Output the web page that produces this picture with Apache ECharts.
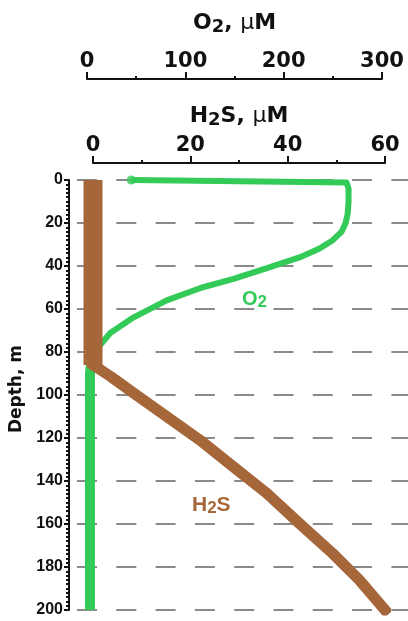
<!DOCTYPE html>
<html>
<head>
<meta charset="utf-8">
<script src="https://cdn.jsdelivr.net/npm/echarts@6/dist/echarts.min.js"></script>
<style>
  html, body { margin: 0; padding: 0; background: #fff; }
  #chart { width: 408px; height: 621px; }
</style>
</head>
<body>
<div id="chart"></div>
<script>
// Axis ticks
const depthTicks = [0, 20, 40, 60, 80, 100, 120, 140, 160, 180, 200];
const o2Ticks = [0, 100, 200, 300];
const h2sTicks = [0, 20, 40, 60];

// Oxygen profile (µM) against depth (m)
const o2Depth  = [0, 1.2, 4, 10, 16, 20, 24, 28, 32, 36, 41, 46, 50, 56, 64, 71, 77, 82, 86, 90, 200];
const o2Values = [45, 264, 266, 266, 265, 263, 259, 250, 236, 216, 183, 149, 117, 81, 47, 24, 13, 7, 4, 3, 3];

// Hydrogen sulfide profile (µM) against depth (m)
const h2sDepth  = [0, 86, 91.5, 99.2, 110.1, 121, 133.3, 145.7, 159.7, 173.6, 186, 200];
const h2sValues = [0, 0, 3.7, 8.4, 15.2, 22, 28.8, 35.7, 42.4, 49.2, 54.7, 60];

const GREEN = '#33ca58';
const BROWN = '#a5673a';
const INK = '#111';

const pairs = (vals, deps) => vals.map((v, i) => [v, deps[i]]);
const o2Data = pairs(o2Values, o2Depth);
const h2sData = pairs(h2sValues, h2sDepth);
const deepStart = o2Depth.indexOf(82);
const bendAt = h2sDepth.indexOf(86);

const tickFont = { fontFamily: 'DejaVu Sans', fontWeight: 'bold', fontSize: 21, color: INK };
function titleRich() {
  const base = { fontFamily: 'DejaVu Sans', fontWeight: 'bold', fontSize: 22, color: INK };
  return {
    a: Object.assign({}, base),
    s: Object.assign({}, base, { fontSize: 18, padding: [7, 0, 0, 0] }),
    u: Object.assign({}, base, { fontWeight: 'normal' })
  };
}

function topAxis(grid, ticks, offset, name, gap) {
  return {
    type: 'value', gridIndex: grid, position: 'top', offset: offset,
    min: ticks[0], max: ticks[ticks.length - 1], interval: ticks[1] - ticks[0],
    axisLine: { show: true, onZero: false, lineStyle: { color: INK, width: 2 } },
    axisTick: { show: true, length: 7, lineStyle: { color: INK, width: 2 } },
    minorTick: { show: true, splitNumber: 2, length: 3, lineStyle: { color: INK, width: 2 } },
    axisLabel: Object.assign({ margin: 7 }, tickFont),
    splitLine: { show: false },
    name: name, nameLocation: 'middle', nameGap: gap,
    nameTextStyle: { rich: titleRich() }
  };
}

const chart = echarts.init(document.getElementById('chart'), null, { renderer: 'canvas' });
chart.setOption({
  backgroundColor: '#fff',
  animation: false,
  grid: [
    { left: 87, top: 180, width: 295, height: 430 },
    { left: 92, top: 180, width: 293, height: 430 },
    { left: 77, top: 180, right: 0, height: 430 }
  ],
  xAxis: [
    topAxis(0, o2Ticks, 101, '{a|O}{s|2}{a|, }{u|μ}{a|M}', 43),
    topAxis(1, h2sTicks, 17, '{a|H}{s|2}{a|S, }{u|μ}{a|M}', 34),
    { type: 'value', gridIndex: 2, show: false, min: 0, max: 1 }
  ],
  yAxis: [
    { type: 'value', gridIndex: 0, show: false, inverse: true, min: 0, max: 200 },
    {
      type: 'value', gridIndex: 1, inverse: true, offset: 24,
      min: depthTicks[0], max: depthTicks[depthTicks.length - 1], interval: depthTicks[1] - depthTicks[0],
      axisLine: { show: true, onZero: false, lineStyle: { color: INK, width: 2 } },
      axisTick: { show: true, length: 5, lineStyle: { color: INK, width: 2 } },
      minorTick: { show: true, splitNumber: 10, length: 3, lineStyle: { color: INK, width: 2 } },
      axisLabel: { margin: 6, fontFamily: 'Liberation Sans', fontWeight: 'bold', fontSize: 16, color: INK },
      splitLine: { show: false },
      name: 'Depth, m', nameLocation: 'middle', nameRotate: 90, nameGap: 44,
      nameTextStyle: { fontFamily: 'DejaVu Sans', fontWeight: 'bold', fontSize: 17, color: INK, padding: [0, 0, 0, 12] }
    },
    {
      type: 'value', gridIndex: 2, inverse: true,
      min: depthTicks[0], max: depthTicks[depthTicks.length - 1], interval: depthTicks[1] - depthTicks[0],
      axisLine: { show: false }, axisTick: { show: false }, axisLabel: { show: false },
      splitLine: { show: true, lineStyle: { color: '#8a8a8a', width: 2, type: [20, 19.3] } }
    }
  ],
  graphic: [
    {
      type: 'text', left: 242, top: 289, z: 10,
      style: {
        text: '{a|O}{s|2}',
        rich: {
          a: { fontFamily: 'Liberation Sans', fontWeight: 'bold', fontSize: 20, fill: GREEN },
          s: { fontFamily: 'Liberation Sans', fontWeight: 'bold', fontSize: 17, fill: GREEN, padding: [6, 0, 0, 0] }
        }
      }
    },
    {
      type: 'text', left: 192, top: 495, z: 10,
      style: {
        text: '{a|H}{s|2}{a|S}',
        rich: {
          a: { fontFamily: 'Liberation Sans', fontWeight: 'bold', fontSize: 21, fill: BROWN },
          s: { fontFamily: 'Liberation Sans', fontWeight: 'bold', fontSize: 17, fill: BROWN, padding: [6, 0, 0, 0] }
        }
      }
    }
  ],
  series: [
    {
      name: 'O2', type: 'line', xAxisIndex: 0, yAxisIndex: 0, data: o2Data,
      symbol: 'none', lineStyle: { color: GREEN, width: 6, join: 'round', cap: 'butt' }, z: 3
    },
    {
      name: 'O2 deep', type: 'line', xAxisIndex: 0, yAxisIndex: 0, data: o2Data.slice(deepStart),
      symbol: 'none', lineStyle: { color: GREEN, width: 10, cap: 'butt' }, z: 3
    },
    {
      name: 'O2 surface', type: 'scatter', xAxisIndex: 0, yAxisIndex: 0, data: [o2Data[0]],
      symbol: 'circle', symbolSize: 9, itemStyle: { color: GREEN }, z: 4
    },
    {
      name: 'H2S upper', type: 'line', xAxisIndex: 1, yAxisIndex: 1, data: h2sData.slice(0, bendAt + 1),
      symbol: 'none', lineStyle: { color: BROWN, width: 19, cap: 'butt' }, z: 5
    },
    {
      name: 'H2S', type: 'line', xAxisIndex: 1, yAxisIndex: 1, data: h2sData.slice(bendAt),
      symbol: 'none', lineStyle: { color: BROWN, width: 11, join: 'round', cap: 'square' }, z: 5
    }
  ]
});
</script>
</body>
</html>
